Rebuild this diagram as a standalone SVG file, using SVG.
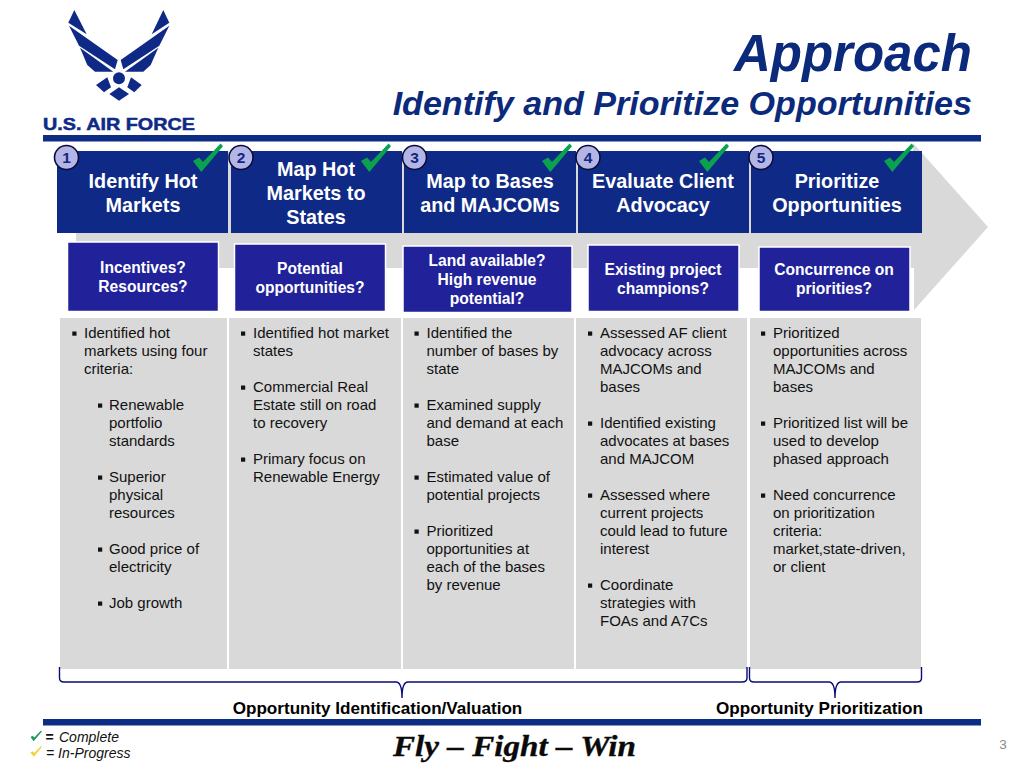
<svg xmlns="http://www.w3.org/2000/svg" width="1024" height="768" viewBox="0 0 1024 768">
<style>
text{font-family:"Liberation Sans",Arial,sans-serif}
.rule{fill:#0c2d83}
.hd{fill:#0f2a86}
.hdt{fill:#fff;font-weight:bold;font-size:19.8px;text-anchor:middle}
.q{fill:#21219a;stroke:#fff;stroke-width:1.5}
.qt{fill:#fff;font-weight:bold;font-size:15.6px;text-anchor:middle}
.panel{fill:#d9d9d9}
.b{fill:#111;font-size:15px}
.bu{fill:#111}
.nc{fill:#b3b5e6;stroke:#0a0a3c;stroke-width:1.6}
.nt{fill:#15257f;font-weight:bold;font-size:15.5px;text-anchor:middle}
.lab{fill:#000;font-weight:bold;font-size:17.1px;text-anchor:middle}
.br{fill:none;stroke:#0b0b78;stroke-width:1.4}
.logo{fill:#0f2a86}
</style>
<defs>
<polygon id="chk" points="0,17.400 6,14 10,18.400 27.600,0 30,2.700 8.300,28.400"/>
<rect id="sq" width="4.200" height="4.200"/>
</defs>

<g id="logo">
<g class="logo">
<polygon points="74.300,10 68.300,22.700 86.700,34.300"/>
<polygon points="69,25.700 117.700,60 115,69.300 79,45.700"/>
<polygon points="80,47.700 113.300,71.700 95,71.700 87.300,65"/>
<polygon points="163.300,10 169.300,22.700 151.700,34.300"/>
<polygon points="169.300,25.700 120.700,60 123.300,69.300 159.300,45.700"/>
<polygon points="158.300,47.700 125,71.700 143.300,71.700 150.700,65"/>
<circle cx="119" cy="78.300" r="6"/>
<polygon points="96,85 107.300,77.300 111,87.300 104,92.300"/>
<polygon points="141.700,85 131,77.300 127.300,87.300 134.300,92.300"/>
<polygon points="119,87.300 129,94 119,100.700 109.300,94"/>
</g>
<text x="43" y="130.300" font-size="16.500" font-weight="bold" fill="#0f2a86" stroke="#0f2a86" stroke-width=".5" textLength="152" lengthAdjust="spacingAndGlyphs">U.S. AIR FORCE</text>
</g>

<g id="title" fill="#0b2a7c" font-weight="bold" font-style="italic" text-anchor="end">
<text x="972" y="71" font-size="51">Approach</text>
<text x="972" y="115" font-size="34.100">Identify and Prioritize Opportunities</text>
</g>

<rect id="rule-top" class="rule" x="43" y="135" width="938" height="6.500"/>
<rect id="rule-bottom" class="rule" x="43" y="719" width="938" height="6.500"/>

<polygon id="chevron" fill="#d9d9d9" points="76,152 913,152 913,143 988,227 914,310 914,268 76,268"/>

<g id="panel-1"><rect class="panel" x="60" y="318" width="167" height="351"/>
<use href="#sq" class="bu" x="72.300" y="331.500"/><use href="#sq" class="bu" x="98" y="403.500"/><use href="#sq" class="bu" x="98" y="475.500"/><use href="#sq" class="bu" x="98" y="547.500"/><use href="#sq" class="bu" x="98" y="601.500"/>
<text class="b"><tspan x="84" y="338">Identified hot</tspan><tspan x="84" y="356">markets using four</tspan><tspan x="84" y="374">criteria:</tspan><tspan x="109" y="410">Renewable</tspan><tspan x="109" y="428">portfolio</tspan><tspan x="109" y="446">standards</tspan><tspan x="109" y="482">Superior</tspan><tspan x="109" y="500">physical</tspan><tspan x="109" y="518">resources</tspan><tspan x="109" y="554">Good price of</tspan><tspan x="109" y="572">electricity</tspan><tspan x="109" y="608">Job growth</tspan></text></g>

<g id="panel-2"><rect class="panel" x="229" y="318" width="172" height="351"/>
<use href="#sq" class="bu" x="241" y="331.500"/><use href="#sq" class="bu" x="241" y="385.500"/><use href="#sq" class="bu" x="241" y="457.500"/>
<text class="b"><tspan x="253" y="338">Identified hot market</tspan><tspan x="253" y="356">states</tspan><tspan x="253" y="392">Commercial Real</tspan><tspan x="253" y="410">Estate still on road</tspan><tspan x="253" y="428">to recovery</tspan><tspan x="253" y="464">Primary focus on</tspan><tspan x="253" y="482">Renewable Energy</tspan></text></g>

<g id="panel-3"><rect class="panel" x="403" y="318" width="171" height="351"/>
<use href="#sq" class="bu" x="414.500" y="331.500"/><use href="#sq" class="bu" x="414.500" y="403.500"/><use href="#sq" class="bu" x="414.500" y="475.500"/><use href="#sq" class="bu" x="414.500" y="529.500"/>
<text class="b"><tspan x="426.500" y="338">Identified the</tspan><tspan x="426.500" y="356">number of bases by</tspan><tspan x="426.500" y="374">state</tspan><tspan x="426.500" y="410">Examined supply</tspan><tspan x="426.500" y="428">and demand at each</tspan><tspan x="426.500" y="446">base</tspan><tspan x="426.500" y="482">Estimated value of</tspan><tspan x="426.500" y="500">potential projects</tspan><tspan x="426.500" y="536">Prioritized</tspan><tspan x="426.500" y="554">opportunities at</tspan><tspan x="426.500" y="572">each of the bases</tspan><tspan x="426.500" y="590">by revenue</tspan></text></g>

<g id="panel-4"><rect class="panel" x="576" y="318" width="171" height="351"/>
<use href="#sq" class="bu" x="588" y="331.500"/><use href="#sq" class="bu" x="588" y="421.500"/><use href="#sq" class="bu" x="588" y="493.500"/><use href="#sq" class="bu" x="588" y="583.500"/>
<text class="b"><tspan x="600" y="338">Assessed AF client</tspan><tspan x="600" y="356">advocacy across</tspan><tspan x="600" y="374">MAJCOMs and</tspan><tspan x="600" y="392">bases</tspan><tspan x="600" y="428">Identified existing</tspan><tspan x="600" y="446">advocates at bases</tspan><tspan x="600" y="464">and MAJCOM</tspan><tspan x="600" y="500">Assessed where</tspan><tspan x="600" y="518">current projects</tspan><tspan x="600" y="536">could lead to future</tspan><tspan x="600" y="554">interest</tspan><tspan x="600" y="590">Coordinate</tspan><tspan x="600" y="608">strategies with</tspan><tspan x="600" y="626">FOAs and A7Cs</tspan></text></g>

<g id="panel-5"><rect class="panel" x="750" y="318" width="171" height="351"/>
<use href="#sq" class="bu" x="761" y="331.500"/><use href="#sq" class="bu" x="761" y="421.500"/><use href="#sq" class="bu" x="761" y="493.500"/>
<text class="b"><tspan x="773" y="338">Prioritized</tspan><tspan x="773" y="356">opportunities across</tspan><tspan x="773" y="374">MAJCOMs and</tspan><tspan x="773" y="392">bases</tspan><tspan x="773" y="428">Prioritized list will be</tspan><tspan x="773" y="446">used to develop</tspan><tspan x="773" y="464">phased approach</tspan><tspan x="773" y="500">Need concurrence</tspan><tspan x="773" y="518">on prioritization</tspan><tspan x="773" y="536">criteria:</tspan><tspan x="773" y="554">market,state-driven,</tspan><tspan x="773" y="572">or client</tspan></text></g>

<g id="question-1"><rect class="q" x="67.500" y="242" width="151" height="69.500"/><text class="qt"><tspan x="143" y="273">Incentives?</tspan><tspan x="143" y="292">Resources?</tspan></text></g>
<g id="question-2"><rect class="q" x="234.500" y="244" width="151" height="67.500"/><text class="qt"><tspan x="310" y="274">Potential</tspan><tspan x="310" y="293">opportunities?</tspan></text></g>
<g id="question-3"><rect class="q" x="403" y="246" width="169" height="66.500"/><text class="qt"><tspan x="487" y="266">Land available?</tspan><tspan x="487" y="285">High revenue</tspan><tspan x="487" y="304">potential?</tspan></text></g>
<g id="question-4"><rect class="q" x="588" y="245" width="151" height="66.500"/><text class="qt"><tspan x="663" y="275">Existing project</tspan><tspan x="663" y="294">champions?</tspan></text></g>
<g id="question-5"><rect class="q" x="759" y="247" width="151" height="64.500"/><text class="qt"><tspan x="834" y="275">Concurrence on</tspan><tspan x="834" y="294">priorities?</tspan></text></g>

<g id="step-1"><rect class="hd" x="57" y="151" width="171" height="82"/><text class="hdt"><tspan x="143" y="187.500">Identify Hot</tspan><tspan x="143" y="211.500">Markets</tspan></text>
<circle class="nc" cx="66.500" cy="157.500" r="12"/><text class="nt" x="66.500" y="163">1</text><use href="#chk" fill="#0aa24f" x="193" y="143.500"/></g>
<g id="step-2"><rect class="hd" x="231" y="151" width="171" height="82"/><text class="hdt"><tspan x="316" y="175.500">Map Hot</tspan><tspan x="316" y="199.500">Markets to</tspan><tspan x="316" y="223.500">States</tspan></text>
<circle class="nc" cx="241" cy="157.500" r="12"/><text class="nt" x="241" y="163">2</text><use href="#chk" fill="#0aa24f" x="361" y="143.500"/></g>
<g id="step-3"><rect class="hd" x="404" y="151" width="172" height="82"/><text class="hdt"><tspan x="490" y="187.500">Map to Bases</tspan><tspan x="490" y="211.500">and MAJCOMs</tspan></text>
<circle class="nc" cx="414.500" cy="157.500" r="12"/><text class="nt" x="414.500" y="163">3</text><use href="#chk" fill="#0aa24f" x="542" y="143.500"/></g>
<g id="step-4"><rect class="hd" x="578" y="151" width="171" height="82"/><text class="hdt"><tspan x="663" y="187.500">Evaluate Client</tspan><tspan x="663" y="211.500">Advocacy</tspan></text>
<circle class="nc" cx="588" cy="157.500" r="12"/><text class="nt" x="588" y="163">4</text><use href="#chk" fill="#0aa24f" x="699" y="143.500"/></g>
<g id="step-5"><rect class="hd" x="751" y="151" width="171" height="82"/><text class="hdt"><tspan x="837" y="187.500">Prioritize</tspan><tspan x="837" y="211.500">Opportunities</tspan></text>
<circle class="nc" cx="761" cy="157.500" r="12"/><text class="nt" x="761" y="163">5</text><use href="#chk" fill="#0aa24f" x="884" y="143.500"/></g>

<g id="connectors">
<path class="br" d="M59.500 667 V678 Q59.500 682 64 682 H396 Q402 682 402 698 Q402 682 408 682 H742 Q747 682 747 678 V667"/>
<path class="br" d="M749.500 667 V678 Q749.500 682 754 682 H829 Q835 682 835 698 Q835 682 841 682 H917 Q921.500 682 921.500 678 V667"/>
</g>

<text id="label-identification" class="lab" x="377.500" y="714">Opportunity Identification/Valuation</text>
<text id="label-prioritization" class="lab" x="819.500" y="714">Opportunity Prioritization</text>

<g id="legend">
<use href="#chk" fill="#1f9a5c" transform="translate(30.500 730.500) scale(.38)"/>
<use href="#chk" fill="#f2d23c" transform="translate(30.500 746) scale(.38)"/>
<text x="45.500" y="742" font-size="14" font-weight="bold" fill="#111">=</text>
<text x="59" y="742" font-size="14" font-style="italic" fill="#111">Complete</text>
<text x="46" y="758" font-size="14" font-style="italic" fill="#111">= In-Progress</text>
</g>

<text id="motto" x="393" y="755.500" font-size="29" font-weight="bold" font-style="italic" fill="#0a0a0a" stroke="#0a0a0a" stroke-width=".35" textLength="243" lengthAdjust="spacingAndGlyphs" style="font-family:'Liberation Serif',serif">Fly – Fight – Win</text>
<text id="page" x="1003" y="749" font-size="13.500" text-anchor="middle" fill="#8a8a8a">3</text>
</svg>
